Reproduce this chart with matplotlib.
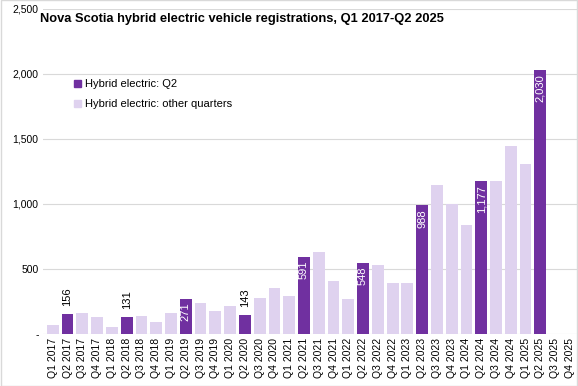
import matplotlib.pyplot as plt
from matplotlib.patches import Patch, Rectangle

# --- datos ---
quarters = [f"Q{q} {y}" for y in range(2017, 2026) for q in range(1, 5)]
values = [67, 156, 164, 128, 56, 131, 136, 95,
          164, 271, 241, 174, 213, 143, 274, 351,
          288, 591, 631, 408, 270, 548, 531, 393,
          393, 988, 1147, 998, 839, 1177, 1178, 1448,
          1309, 2030]
dark = "#7030A0"
light = "#DFD2EF"

plt.rcParams["font.family"] = ["Liberation Sans", "DejaVu Sans"]

fig = plt.figure(figsize=(5.78, 3.86), dpi=100)
ax = fig.add_axes([0.074, 0.135, 0.926, 0.842])

x = list(range(len(values)))
colors = [dark if quarters[i].startswith("Q2") else light for i in x]
bars = ax.bar(x, values, width=0.8, color=colors, zorder=2)

# etiquetas para los Q2
for i, b in enumerate(bars):
    if not quarters[i].startswith("Q2"):
        continue
    v = values[i]
    txt = f"{v:,}"
    if v < 200:
        ax.text(b.get_x() + b.get_width() / 2, v + 60, txt, rotation=90,
                ha="center", va="bottom", fontsize=8, color="black")
    else:
        ax.text(b.get_x() + b.get_width() / 2, v - 30, txt, rotation=90,
                ha="center", va="top", fontsize=8, color="white")

ax.set_xlim(-0.68, len(quarters) - 1 + 0.55)
ax.set_ylim(0, 2500)
ax.set_xticks(range(len(quarters)))
ax.set_xticklabels(quarters, rotation=90, fontsize=7.5)
ax.set_yticks(range(0, 2501, 500))
ax.set_yticklabels(["-"] + [f"{v:,}" for v in range(500, 2501, 500)], fontsize=7.5)
ax.tick_params(length=0, pad=3)
ax.grid(axis="y", color="#D9D9D9", linewidth=0.8, zorder=0)
for s in ax.spines.values():
    s.set_visible(False)

ax.text(-0.005, 0.988, "Nova Scotia hybrid electric vehicle registrations, Q1 2017-Q2 2025",
        transform=ax.transAxes, fontsize=9.3, fontweight="bold", va="top")

handles = [Patch(color=dark, label="Hybrid electric: Q2"),
           Patch(color=light, label="Hybrid electric: other quarters")]
ax.legend(handles=handles, loc="upper left", bbox_to_anchor=(0.04, 0.815),
          frameon=False, fontsize=8, handlelength=0.6, handleheight=0.6,
          handletextpad=0.4, labelspacing=0.9)

# borde fino alrededor de la figura
fig.patches.append(Rectangle((0.001, 0.001), 0.998, 0.998, transform=fig.transFigure,
                             fill=False, edgecolor="#D9D9D9", linewidth=1))

fig.savefig("out.png", dpi=100)
